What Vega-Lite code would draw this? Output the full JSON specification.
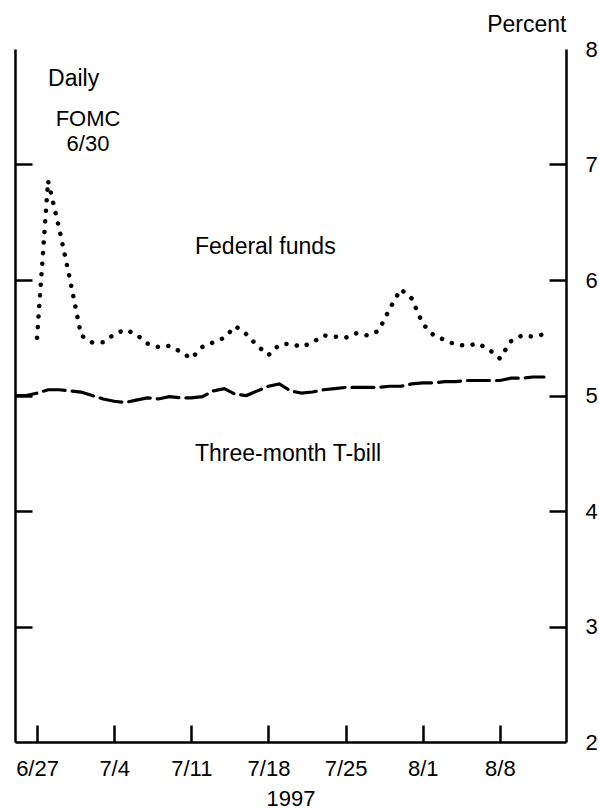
{
  "$schema": "https://vega.github.io/schema/vega-lite/v6.json",
  "width": 551,
  "height": 693,
  "autosize": {"type": "none"},
  "padding": {"left": 15, "top": 49, "right": 33, "bottom": 67},
  "background": "white",
  "config": {
    "view": {"stroke": null},
    "font": "Liberation Sans",
    "axis": {
      "domainColor": "black", "domainWidth": 2.5, "tickColor": "black", "tickWidth": 2.5,
      "labelFont": "Liberation Sans", "labelFontSize": 22, "labelColor": "black",
      "titleFont": "Liberation Sans", "titleFontSize": 22, "titleFontWeight": "normal", "titleColor": "black",
      "grid": false
    }
  },
  "datasets": {
    "rates": [
      {"date": "1997-06-27", "series": "Federal funds", "rate": 5.50},
      {"date": "1997-06-28", "series": "Federal funds", "rate": 6.86},
      {"date": "1997-06-29", "series": "Federal funds", "rate": 6.45},
      {"date": "1997-06-30", "series": "Federal funds", "rate": 6.00},
      {"date": "1997-07-01", "series": "Federal funds", "rate": 5.52},
      {"date": "1997-07-02", "series": "Federal funds", "rate": 5.46},
      {"date": "1997-07-03", "series": "Federal funds", "rate": 5.46},
      {"date": "1997-07-04", "series": "Federal funds", "rate": 5.53},
      {"date": "1997-07-05", "series": "Federal funds", "rate": 5.57},
      {"date": "1997-07-06", "series": "Federal funds", "rate": 5.53},
      {"date": "1997-07-07", "series": "Federal funds", "rate": 5.45},
      {"date": "1997-07-08", "series": "Federal funds", "rate": 5.42},
      {"date": "1997-07-09", "series": "Federal funds", "rate": 5.43},
      {"date": "1997-07-10", "series": "Federal funds", "rate": 5.38},
      {"date": "1997-07-11", "series": "Federal funds", "rate": 5.32},
      {"date": "1997-07-12", "series": "Federal funds", "rate": 5.42},
      {"date": "1997-07-13", "series": "Federal funds", "rate": 5.46},
      {"date": "1997-07-14", "series": "Federal funds", "rate": 5.50},
      {"date": "1997-07-15", "series": "Federal funds", "rate": 5.60},
      {"date": "1997-07-16", "series": "Federal funds", "rate": 5.53},
      {"date": "1997-07-17", "series": "Federal funds", "rate": 5.43},
      {"date": "1997-07-18", "series": "Federal funds", "rate": 5.35},
      {"date": "1997-07-19", "series": "Federal funds", "rate": 5.44},
      {"date": "1997-07-20", "series": "Federal funds", "rate": 5.45},
      {"date": "1997-07-21", "series": "Federal funds", "rate": 5.42},
      {"date": "1997-07-22", "series": "Federal funds", "rate": 5.46},
      {"date": "1997-07-23", "series": "Federal funds", "rate": 5.52},
      {"date": "1997-07-24", "series": "Federal funds", "rate": 5.51},
      {"date": "1997-07-25", "series": "Federal funds", "rate": 5.50},
      {"date": "1997-07-26", "series": "Federal funds", "rate": 5.54},
      {"date": "1997-07-27", "series": "Federal funds", "rate": 5.52},
      {"date": "1997-07-28", "series": "Federal funds", "rate": 5.56},
      {"date": "1997-07-29", "series": "Federal funds", "rate": 5.75},
      {"date": "1997-07-30", "series": "Federal funds", "rate": 5.92},
      {"date": "1997-07-31", "series": "Federal funds", "rate": 5.84},
      {"date": "1997-08-01", "series": "Federal funds", "rate": 5.62},
      {"date": "1997-08-02", "series": "Federal funds", "rate": 5.52},
      {"date": "1997-08-03", "series": "Federal funds", "rate": 5.48},
      {"date": "1997-08-04", "series": "Federal funds", "rate": 5.44},
      {"date": "1997-08-05", "series": "Federal funds", "rate": 5.43},
      {"date": "1997-08-06", "series": "Federal funds", "rate": 5.45},
      {"date": "1997-08-07", "series": "Federal funds", "rate": 5.40},
      {"date": "1997-08-08", "series": "Federal funds", "rate": 5.32},
      {"date": "1997-08-09", "series": "Federal funds", "rate": 5.47},
      {"date": "1997-08-10", "series": "Federal funds", "rate": 5.52},
      {"date": "1997-08-11", "series": "Federal funds", "rate": 5.51},
      {"date": "1997-08-12", "series": "Federal funds", "rate": 5.53},
      {"date": "1997-06-25", "series": "Three-month T-bill", "rate": 5.00},
      {"date": "1997-06-26", "series": "Three-month T-bill", "rate": 5.00},
      {"date": "1997-06-27", "series": "Three-month T-bill", "rate": 5.02},
      {"date": "1997-06-28", "series": "Three-month T-bill", "rate": 5.05},
      {"date": "1997-06-29", "series": "Three-month T-bill", "rate": 5.05},
      {"date": "1997-06-30", "series": "Three-month T-bill", "rate": 5.04},
      {"date": "1997-07-01", "series": "Three-month T-bill", "rate": 5.03},
      {"date": "1997-07-02", "series": "Three-month T-bill", "rate": 5.00},
      {"date": "1997-07-03", "series": "Three-month T-bill", "rate": 4.97},
      {"date": "1997-07-04", "series": "Three-month T-bill", "rate": 4.95},
      {"date": "1997-07-05", "series": "Three-month T-bill", "rate": 4.94},
      {"date": "1997-07-06", "series": "Three-month T-bill", "rate": 4.96},
      {"date": "1997-07-07", "series": "Three-month T-bill", "rate": 4.98},
      {"date": "1997-07-08", "series": "Three-month T-bill", "rate": 4.97},
      {"date": "1997-07-09", "series": "Three-month T-bill", "rate": 4.99},
      {"date": "1997-07-10", "series": "Three-month T-bill", "rate": 4.98},
      {"date": "1997-07-11", "series": "Three-month T-bill", "rate": 4.98},
      {"date": "1997-07-12", "series": "Three-month T-bill", "rate": 4.99},
      {"date": "1997-07-13", "series": "Three-month T-bill", "rate": 5.04},
      {"date": "1997-07-14", "series": "Three-month T-bill", "rate": 5.06},
      {"date": "1997-07-15", "series": "Three-month T-bill", "rate": 5.01},
      {"date": "1997-07-16", "series": "Three-month T-bill", "rate": 5.00},
      {"date": "1997-07-17", "series": "Three-month T-bill", "rate": 5.04},
      {"date": "1997-07-18", "series": "Three-month T-bill", "rate": 5.08},
      {"date": "1997-07-19", "series": "Three-month T-bill", "rate": 5.10},
      {"date": "1997-07-20", "series": "Three-month T-bill", "rate": 5.04},
      {"date": "1997-07-21", "series": "Three-month T-bill", "rate": 5.02},
      {"date": "1997-07-22", "series": "Three-month T-bill", "rate": 5.03},
      {"date": "1997-07-23", "series": "Three-month T-bill", "rate": 5.05},
      {"date": "1997-07-24", "series": "Three-month T-bill", "rate": 5.06},
      {"date": "1997-07-25", "series": "Three-month T-bill", "rate": 5.07},
      {"date": "1997-07-26", "series": "Three-month T-bill", "rate": 5.07},
      {"date": "1997-07-27", "series": "Three-month T-bill", "rate": 5.07},
      {"date": "1997-07-28", "series": "Three-month T-bill", "rate": 5.07},
      {"date": "1997-07-29", "series": "Three-month T-bill", "rate": 5.08},
      {"date": "1997-07-30", "series": "Three-month T-bill", "rate": 5.08},
      {"date": "1997-07-31", "series": "Three-month T-bill", "rate": 5.10},
      {"date": "1997-08-01", "series": "Three-month T-bill", "rate": 5.11},
      {"date": "1997-08-02", "series": "Three-month T-bill", "rate": 5.11},
      {"date": "1997-08-03", "series": "Three-month T-bill", "rate": 5.12},
      {"date": "1997-08-04", "series": "Three-month T-bill", "rate": 5.12},
      {"date": "1997-08-05", "series": "Three-month T-bill", "rate": 5.13},
      {"date": "1997-08-06", "series": "Three-month T-bill", "rate": 5.13},
      {"date": "1997-08-07", "series": "Three-month T-bill", "rate": 5.13},
      {"date": "1997-08-08", "series": "Three-month T-bill", "rate": 5.13},
      {"date": "1997-08-09", "series": "Three-month T-bill", "rate": 5.15},
      {"date": "1997-08-10", "series": "Three-month T-bill", "rate": 5.15},
      {"date": "1997-08-11", "series": "Three-month T-bill", "rate": 5.16},
      {"date": "1997-08-12", "series": "Three-month T-bill", "rate": 5.16}
    ],
    "labels": [
      {"date": "1997-06-28T00:00:00Z", "value": 7.74, "label": "Daily", "align": "left"},
      {"date": "1997-07-01T15:00:00Z", "value": 7.39, "label": "FOMC", "align": "center"},
      {"date": "1997-07-01T15:00:00Z", "value": 7.18, "label": "6/30", "align": "center"},
      {"date": "1997-07-11T08:00:00Z", "value": 6.29, "label": "Federal funds", "align": "left"},
      {"date": "1997-07-11T08:00:00Z", "value": 4.49, "label": "Three-month T-bill", "align": "left"}
    ]
  },
  "resolve": {"scale": {"y": "shared", "x": "shared"}, "axis": {"y": "independent"}},
  "layer": [
    {
      "data": {"name": "rates"},
      "mark": {"type": "line", "color": "black", "strokeCap": "round", "clip": true},
      "encoding": {
        "x": {
          "field": "date", "type": "temporal",
          "scale": {"type": "utc", "domain": [{"year": 1997, "month": 6, "date": 25, "utc": true}, {"year": 1997, "month": 8, "date": 14, "utc": true}]},
          "axis": {
            "orient": "bottom", "title": "1997", "titleY": 56, "titleBaseline": "middle", "titleFontSize": 22,
            "values": [
              {"year": 1997, "month": 6, "date": 27, "utc": true},
              {"year": 1997, "month": 7, "date": 4, "utc": true},
              {"year": 1997, "month": 7, "date": 11, "utc": true},
              {"year": 1997, "month": 7, "date": 18, "utc": true},
              {"year": 1997, "month": 7, "date": 25, "utc": true},
              {"year": 1997, "month": 8, "date": 1, "utc": true},
              {"year": 1997, "month": 8, "date": 8, "utc": true}
            ],
            "labelExpr": "utcFormat(datum.value, '%-m/%-d')",
            "tickSize": -17, "labelPadding": 43, "labelBaseline": "middle", "labelFlush": false
          }
        },
        "y": {
          "field": "rate", "type": "quantitative",
          "scale": {"domain": [2, 8], "nice": false, "zero": false},
          "axis": {
            "orient": "right", "values": [2, 3, 4, 5, 6, 7, 8], "ticks": false, "labelPadding": 19,
            "labelFlush": false, "labelBaseline": "middle",
            "title": "Percent", "titleFontSize": 23, "titleAngle": 0, "titleAlign": "right", "titleBaseline": "middle", "titleX": 0, "titleY": -25
          }
        },
        "detail": {"field": "series"},
        "strokeDash": {
          "field": "series", "type": "nominal",
          "scale": {"domain": ["Federal funds", "Three-month T-bill"], "range": [[0.1, 10.5], [22, 7]]},
          "legend": null
        },
        "strokeWidth": {
          "field": "series", "type": "nominal",
          "scale": {"domain": ["Federal funds", "Three-month T-bill"], "range": [4.5, 3.2]},
          "legend": null
        }
      }
    },
    {
      "mark": {"type": "rule", "color": "black", "strokeWidth": 1.6},
      "encoding": {
        "x": {"datum": {"year": 1997, "month": 6, "date": 29, "utc": true}, "type": "temporal"},
        "y": {"datum": 2, "type": "quantitative", "axis": {"orient": "right", "offset": -17, "values": [3, 4, 5, 6, 7], "domain": false, "labels": false, "ticks": true, "tickSize": 17, "title": null}},
        "y2": {"datum": 7}
      }
    },
    {
      "mark": {"type": "rule", "color": "black", "strokeWidth": 2.5},
      "encoding": {
        "x": {"datum": {"year": 1997, "month": 6, "date": 25, "utc": true}, "type": "temporal"},
        "x2": {"datum": {"year": 1997, "month": 6, "date": 28, "utc": true}},
        "y": {"datum": 8, "type": "quantitative", "axis": {"orient": "left", "domain": true, "ticks": false, "labels": false, "title": null}}
      }
    },
    {
      "mark": {"type": "rule", "color": "black", "strokeWidth": 2.5},
      "encoding": {
        "x": {"datum": {"year": 1997, "month": 8, "date": 11, "utc": true}, "type": "temporal"},
        "x2": {"datum": {"year": 1997, "month": 8, "date": 14, "utc": true}},
        "y": {"datum": 8, "type": "quantitative", "axis": {"orient": "left", "offset": -17, "values": [3, 4, 5, 6, 7], "domain": false, "labels": false, "ticks": true, "tickSize": 17, "title": null}}
      }
    },
    {
      "data": {"name": "labels"},
      "transform": [{"filter": "datum.align === 'left'"}],
      "mark": {"type": "text", "color": "black", "font": "Liberation Sans", "fontSize": 23, "baseline": "middle", "align": "left"},
      "encoding": {
        "x": {"field": "date", "type": "temporal"},
        "y": {"field": "value", "type": "quantitative", "axis": null},
        "text": {"field": "label"}
      }
    },
    {
      "data": {"name": "labels"},
      "transform": [{"filter": "datum.align === 'center'"}],
      "mark": {"type": "text", "color": "black", "font": "Liberation Sans", "fontSize": 22, "baseline": "middle", "align": "center"},
      "encoding": {
        "x": {"field": "date", "type": "temporal"},
        "y": {"field": "value", "type": "quantitative", "axis": null},
        "text": {"field": "label"}
      }
    }
  ]
}
